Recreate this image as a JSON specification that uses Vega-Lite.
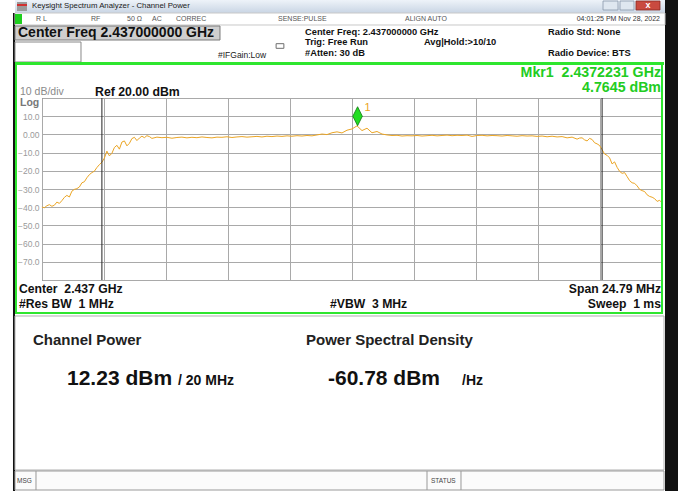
{
  "$schema": "https://vega.github.io/schema/vega-lite/v6.json",
  "autosize": {"type": "none"},
  "width": 620,
  "height": 182,
  "padding": {"left": 42, "top": 98, "right": 16, "bottom": 211},
  "background": "white",
  "config": {
    "font": "Liberation Sans",
    "view": {"stroke": "#4a4a4a", "strokeWidth": 1},
    "text": {"font": "Liberation Sans"}
  },
  "datasets": {
    "trace": [
      {"freq_mhz": 2424.6, "level_dbm": -39.9}, {"freq_mhz": 2424.8, "level_dbm": -39.2}, {"freq_mhz": 2425.0, "level_dbm": -39.5},
      {"freq_mhz": 2425.2, "level_dbm": -37.2}, {"freq_mhz": 2425.4, "level_dbm": -36.4}, {"freq_mhz": 2425.6, "level_dbm": -33.5},
      {"freq_mhz": 2425.8, "level_dbm": -31.2}, {"freq_mhz": 2426.0, "level_dbm": -29.8}, {"freq_mhz": 2426.2, "level_dbm": -26.6},
      {"freq_mhz": 2426.4, "level_dbm": -23.8}, {"freq_mhz": 2426.6, "level_dbm": -21.0}, {"freq_mhz": 2426.8, "level_dbm": -18.2},
      {"freq_mhz": 2427.0, "level_dbm": -15.3}, {"freq_mhz": 2427.2, "level_dbm": -9.2}, {"freq_mhz": 2427.4, "level_dbm": -10.4},
      {"freq_mhz": 2427.6, "level_dbm": -6.0}, {"freq_mhz": 2427.8, "level_dbm": -4.2}, {"freq_mhz": 2428.0, "level_dbm": -6.3},
      {"freq_mhz": 2428.2, "level_dbm": -2.3}, {"freq_mhz": 2428.4, "level_dbm": -3.4}, {"freq_mhz": 2428.6, "level_dbm": -1.0},
      {"freq_mhz": 2428.8, "level_dbm": -0.7}, {"freq_mhz": 2429.0, "level_dbm": -2.2}, {"freq_mhz": 2429.2, "level_dbm": -1.5},
      {"freq_mhz": 2429.4, "level_dbm": -1.8}, {"freq_mhz": 2429.6, "level_dbm": -1.6}, {"freq_mhz": 2429.8, "level_dbm": -2.1},
      {"freq_mhz": 2430.0, "level_dbm": -1.7}, {"freq_mhz": 2430.2, "level_dbm": -1.5}, {"freq_mhz": 2430.4, "level_dbm": -1.9},
      {"freq_mhz": 2430.6, "level_dbm": -1.6}, {"freq_mhz": 2430.8, "level_dbm": -1.8}, {"freq_mhz": 2431.0, "level_dbm": -1.4},
      {"freq_mhz": 2431.2, "level_dbm": -1.7}, {"freq_mhz": 2431.4, "level_dbm": -1.9}, {"freq_mhz": 2431.6, "level_dbm": -1.5},
      {"freq_mhz": 2431.8, "level_dbm": -1.6}, {"freq_mhz": 2432.0, "level_dbm": -1.3}, {"freq_mhz": 2432.2, "level_dbm": -1.7},
      {"freq_mhz": 2432.4, "level_dbm": -1.4}, {"freq_mhz": 2432.6, "level_dbm": -1.2}, {"freq_mhz": 2432.8, "level_dbm": -1.5},
      {"freq_mhz": 2433.0, "level_dbm": -1.3}, {"freq_mhz": 2433.2, "level_dbm": -1.1}, {"freq_mhz": 2433.4, "level_dbm": -1.4},
      {"freq_mhz": 2433.6, "level_dbm": -1.0}, {"freq_mhz": 2433.8, "level_dbm": -1.2}, {"freq_mhz": 2434.0, "level_dbm": -0.9},
      {"freq_mhz": 2434.2, "level_dbm": -1.1}, {"freq_mhz": 2434.4, "level_dbm": -0.8}, {"freq_mhz": 2434.6, "level_dbm": -1.0},
      {"freq_mhz": 2434.8, "level_dbm": -0.7}, {"freq_mhz": 2435.0, "level_dbm": -0.9}, {"freq_mhz": 2435.2, "level_dbm": -0.6},
      {"freq_mhz": 2435.4, "level_dbm": -0.8}, {"freq_mhz": 2435.6, "level_dbm": -0.3}, {"freq_mhz": 2435.8, "level_dbm": 0.2},
      {"freq_mhz": 2436.0, "level_dbm": -0.1}, {"freq_mhz": 2436.2, "level_dbm": 0.9}, {"freq_mhz": 2436.4, "level_dbm": 1.4},
      {"freq_mhz": 2436.6, "level_dbm": 0.8}, {"freq_mhz": 2436.8, "level_dbm": 2.3}, {"freq_mhz": 2437.0, "level_dbm": 3.0},
      {"freq_mhz": 2437.2, "level_dbm": 4.7}, {"freq_mhz": 2437.4, "level_dbm": 2.1}, {"freq_mhz": 2437.6, "level_dbm": 3.4},
      {"freq_mhz": 2437.8, "level_dbm": 0.9}, {"freq_mhz": 2438.0, "level_dbm": 1.6}, {"freq_mhz": 2438.2, "level_dbm": 0.2},
      {"freq_mhz": 2438.4, "level_dbm": -0.3}, {"freq_mhz": 2438.6, "level_dbm": -0.6}, {"freq_mhz": 2438.8, "level_dbm": -0.5},
      {"freq_mhz": 2439.0, "level_dbm": -0.9}, {"freq_mhz": 2439.2, "level_dbm": -0.7}, {"freq_mhz": 2439.4, "level_dbm": -0.8},
      {"freq_mhz": 2439.6, "level_dbm": -0.6}, {"freq_mhz": 2439.8, "level_dbm": -0.9}, {"freq_mhz": 2440.0, "level_dbm": -0.7},
      {"freq_mhz": 2440.2, "level_dbm": -0.5}, {"freq_mhz": 2440.4, "level_dbm": -0.8}, {"freq_mhz": 2440.6, "level_dbm": -0.6},
      {"freq_mhz": 2440.8, "level_dbm": -0.4}, {"freq_mhz": 2441.0, "level_dbm": -0.7}, {"freq_mhz": 2441.2, "level_dbm": -0.5},
      {"freq_mhz": 2441.4, "level_dbm": -0.6}, {"freq_mhz": 2441.6, "level_dbm": -0.4}, {"freq_mhz": 2441.8, "level_dbm": -1.1},
      {"freq_mhz": 2442.0, "level_dbm": -0.6}, {"freq_mhz": 2442.2, "level_dbm": -0.5}, {"freq_mhz": 2442.4, "level_dbm": -0.8},
      {"freq_mhz": 2442.6, "level_dbm": -0.6}, {"freq_mhz": 2442.8, "level_dbm": -0.7}, {"freq_mhz": 2443.0, "level_dbm": -0.9},
      {"freq_mhz": 2443.2, "level_dbm": -0.6}, {"freq_mhz": 2443.4, "level_dbm": -0.8}, {"freq_mhz": 2443.6, "level_dbm": -1.0},
      {"freq_mhz": 2443.8, "level_dbm": -0.7}, {"freq_mhz": 2444.0, "level_dbm": -0.9}, {"freq_mhz": 2444.2, "level_dbm": -0.8},
      {"freq_mhz": 2444.4, "level_dbm": -1.1}, {"freq_mhz": 2444.6, "level_dbm": -0.9}, {"freq_mhz": 2444.8, "level_dbm": -1.3},
      {"freq_mhz": 2445.0, "level_dbm": -1.0}, {"freq_mhz": 2445.2, "level_dbm": -1.4}, {"freq_mhz": 2445.4, "level_dbm": -1.2},
      {"freq_mhz": 2445.6, "level_dbm": -1.9}, {"freq_mhz": 2445.8, "level_dbm": -1.5}, {"freq_mhz": 2446.0, "level_dbm": -2.6},
      {"freq_mhz": 2446.2, "level_dbm": -1.9}, {"freq_mhz": 2446.4, "level_dbm": -3.6}, {"freq_mhz": 2446.6, "level_dbm": -2.8},
      {"freq_mhz": 2446.8, "level_dbm": -5.2}, {"freq_mhz": 2447.0, "level_dbm": -8.4}, {"freq_mhz": 2447.2, "level_dbm": -11.5},
      {"freq_mhz": 2447.4, "level_dbm": -16.2}, {"freq_mhz": 2447.6, "level_dbm": -18.1}, {"freq_mhz": 2447.8, "level_dbm": -21.4},
      {"freq_mhz": 2448.0, "level_dbm": -23.2}, {"freq_mhz": 2448.2, "level_dbm": -26.6}, {"freq_mhz": 2448.4, "level_dbm": -28.3},
      {"freq_mhz": 2448.6, "level_dbm": -30.9}, {"freq_mhz": 2448.8, "level_dbm": -33.2}, {"freq_mhz": 2449.0, "level_dbm": -34.5},
      {"freq_mhz": 2449.2, "level_dbm": -36.8}, {"freq_mhz": 2449.4, "level_dbm": -37.6},
      {"freq_mhz": 2424.7, "level_dbm": -40.3}, {"freq_mhz": 2424.9, "level_dbm": -38.6}, {"freq_mhz": 2425.1, "level_dbm": -38.9},
      {"freq_mhz": 2425.3, "level_dbm": -37.9}, {"freq_mhz": 2425.5, "level_dbm": -34.6}, {"freq_mhz": 2425.7, "level_dbm": -34.4},
      {"freq_mhz": 2425.9, "level_dbm": -30.2}, {"freq_mhz": 2426.1, "level_dbm": -28.9}, {"freq_mhz": 2426.3, "level_dbm": -26.0},
      {"freq_mhz": 2426.5, "level_dbm": -22.1}, {"freq_mhz": 2426.7, "level_dbm": -20.2}, {"freq_mhz": 2426.9, "level_dbm": -16.6},
      {"freq_mhz": 2427.1, "level_dbm": -13.0}, {"freq_mhz": 2427.3, "level_dbm": -11.8}, {"freq_mhz": 2427.5, "level_dbm": -7.2},
      {"freq_mhz": 2427.7, "level_dbm": -8.1}, {"freq_mhz": 2427.9, "level_dbm": -3.6}, {"freq_mhz": 2428.1, "level_dbm": -4.9},
      {"freq_mhz": 2428.3, "level_dbm": -1.6}, {"freq_mhz": 2428.5, "level_dbm": -2.0}, {"freq_mhz": 2428.7, "level_dbm": -1.8},
      {"freq_mhz": 2428.9, "level_dbm": -1.2},
      {"freq_mhz": 2446.1, "level_dbm": -2.0}, {"freq_mhz": 2446.3, "level_dbm": -3.0}, {"freq_mhz": 2446.5, "level_dbm": -2.2},
      {"freq_mhz": 2446.7, "level_dbm": -4.6}, {"freq_mhz": 2446.9, "level_dbm": -6.1}, {"freq_mhz": 2447.1, "level_dbm": -10.8},
      {"freq_mhz": 2447.3, "level_dbm": -12.9}, {"freq_mhz": 2447.5, "level_dbm": -15.1}, {"freq_mhz": 2447.7, "level_dbm": -20.3},
      {"freq_mhz": 2447.9, "level_dbm": -21.0}, {"freq_mhz": 2448.1, "level_dbm": -25.4}, {"freq_mhz": 2448.3, "level_dbm": -26.9},
      {"freq_mhz": 2448.5, "level_dbm": -30.2}, {"freq_mhz": 2448.7, "level_dbm": -31.4}, {"freq_mhz": 2448.9, "level_dbm": -34.1},
      {"freq_mhz": 2449.1, "level_dbm": -35.3}, {"freq_mhz": 2449.3, "level_dbm": -36.2}
    ],
    "marker": [{"freq_mhz": 2437.2231, "level_dbm": 4.7645, "name": "1"}],
    "channel": [{"edge_mhz": 2427.0}, {"edge_mhz": 2447.0}]
  },
  "layer": [
    {"data": {"name": "trace"}, "mark": {"type": "line", "color": "#eba524", "strokeWidth": 1},
     "encoding": {
       "x": {"field": "freq_mhz", "type": "quantitative",
             "scale": {"domain": [2424.605, 2449.395], "nice": false, "zero": false},
             "axis": {"title": null, "values": [2424.605, 2427.084, 2429.563, 2432.042, 2434.521, 2437.0, 2439.479, 2441.958, 2444.437, 2446.916, 2449.395], "tickCount": 30,
                      "labels": false, "ticks": false, "domain": false, "grid": true, "gridColor": "#a9a9a9", "gridWidth": 1}},
       "y": {"field": "level_dbm", "type": "quantitative",
             "scale": {"domain": [-80, 20], "nice": false, "zero": false},
             "axis": {"title": null, "values": [-80, -70, -60, -50, -40, -30, -20, -10, 0, 10, 20], "tickCount": 30,
                      "labelExpr": "datum.value == 0 ? '0.00' : ((datum.value >= 20 || datum.value <= -80) ? '' : format(datum.value, '.1f'))",
                      "ticks": false, "domain": false, "grid": true, "gridColor": "#a9a9a9", "gridWidth": 1,
                      "labelColor": "#9a9a9a", "labelFontSize": 8.5, "labelPadding": 3, "labelOverlap": false, "labelFlush": false, "labelFont": "Liberation Sans"}}
     }},
    {"data": {"values": [{}]}, "mark": {"type": "rect", "fill": "#111111"},
     "encoding": {"x": {"datum": 2449.515}, "x2": {"datum": 2450.035}, "y": {"datum": 73.846}, "y2": {"datum": -195.934}}},
    {"data": {"values": [{}]}, "mark": {"type": "rect", "fill": "#111111"},
     "encoding": {"x": {"datum": 2423.445}, "x2": {"datum": 2423.525}, "y": {"datum": 66.703}, "y2": {"datum": -195.934}}},
    {"data": {"values": [{}]}, "mark": {"type": "rect", "fill": {"gradient": "linear", "x1": 0, "y1": 0, "x2": 0, "y2": 1, "stops": [{"offset": 0, "color": "#eef3f9"}, {"offset": 1, "color": "#c9d5e4"}]}},
     "encoding": {"x": {"datum": 2423.525}, "x2": {"datum": 2449.515}, "y": {"datum": 73.846}, "y2": {"datum": 66.703}}},
    {"data": {"values": [{}]}, "mark": {"type": "rect", "fill": "#9a9a9a"},
     "encoding": {"x": {"datum": 2423.605}, "x2": {"datum": 2424.005}, "y": {"datum": 72.747}, "y2": {"datum": 67.802}}},
    {"data": {"values": [{}]}, "mark": {"type": "rect", "fill": "#d03030"},
     "encoding": {"x": {"datum": 2423.605}, "x2": {"datum": 2424.005}, "y": {"datum": 71.648}, "y2": {"datum": 70.549}}},
    {"data": {"values": [{"t": "Keysight Spectrum Analyzer - Channel Power"}]}, "mark": {"type": "text", "align": "left", "baseline": "middle", "fontSize": 7.8, "color": "#1a1a1a"},
     "encoding": {"x": {"datum": 2424.205}, "y": {"datum": 70.275}, "text": {"field": "t"}}},
    {"data": {"values": [{}]}, "mark": {"type": "rect", "fill": "#dfe7f0", "stroke": "#8897aa", "strokeWidth": 0.8},
     "encoding": {"x": {"datum": 2447.036}, "x2": {"datum": 2447.636}, "y": {"datum": 73.297}, "y2": {"datum": 68.352}}},
    {"data": {"values": [{}]}, "mark": {"type": "rect", "fill": "#dfe7f0", "stroke": "#8897aa", "strokeWidth": 0.8},
     "encoding": {"x": {"datum": 2447.716}, "x2": {"datum": 2448.275}, "y": {"datum": 73.297}, "y2": {"datum": 68.352}}},
    {"data": {"values": [{}]}, "mark": {"type": "rect", "fill": "#c94a3f", "stroke": "#8a2a22", "strokeWidth": 0.8},
     "encoding": {"x": {"datum": 2448.355}, "x2": {"datum": 2449.315}, "y": {"datum": 73.297}, "y2": {"datum": 68.352}}},
    {"data": {"values": [{"t": "x"}]}, "mark": {"type": "text", "align": "center", "baseline": "middle", "fontSize": 9, "fontWeight": "bold", "color": "white"},
     "encoding": {"x": {"datum": 2448.835}, "y": {"datum": 71.0}, "text": {"field": "t"}}},
    {"data": {"values": [{}]}, "mark": {"type": "rect", "fill": "white", "stroke": "#c8c8c8", "strokeWidth": 1},
     "encoding": {"x": {"datum": 2423.525}, "x2": {"datum": 2449.515}, "y": {"datum": 66.703}, "y2": {"datum": 60.11}}},
    {"data": {"values": [{}]}, "mark": {"type": "rect", "fill": "#1fcf1f"},
     "encoding": {"x": {"datum": 2423.525}, "x2": {"datum": 2423.805}, "y": {"datum": 66.154}, "y2": {"datum": 60.659}}},
    {"data": {"values": [{"t": "R L"}]}, "mark": {"type": "text", "align": "left", "baseline": "middle", "fontSize": 7, "color": "#555555"},
     "encoding": {"x": {"datum": 2424.365}, "y": {"datum": 63.132}, "text": {"field": "t"}}},
    {"data": {"values": [{"t": "RF"}]}, "mark": {"type": "text", "align": "left", "baseline": "middle", "fontSize": 7, "color": "#555555"},
     "encoding": {"x": {"datum": 2426.564}, "y": {"datum": 63.132}, "text": {"field": "t"}}},
    {"data": {"values": [{"t": "50 Ω"}]}, "mark": {"type": "text", "align": "left", "baseline": "middle", "fontSize": 7, "color": "#555555"},
     "encoding": {"x": {"datum": 2428.004}, "y": {"datum": 63.132}, "text": {"field": "t"}}},
    {"data": {"values": [{"t": "AC"}]}, "mark": {"type": "text", "align": "left", "baseline": "middle", "fontSize": 7, "color": "#555555"},
     "encoding": {"x": {"datum": 2429.003}, "y": {"datum": 63.132}, "text": {"field": "t"}}},
    {"data": {"values": [{"t": "CORREC"}]}, "mark": {"type": "text", "align": "left", "baseline": "middle", "fontSize": 7, "color": "#555555"},
     "encoding": {"x": {"datum": 2429.963}, "y": {"datum": 63.132}, "text": {"field": "t"}}},
    {"data": {"values": [{"t": "SENSE:PULSE"}]}, "mark": {"type": "text", "align": "left", "baseline": "middle", "fontSize": 7, "color": "#555555"},
     "encoding": {"x": {"datum": 2434.041}, "y": {"datum": 63.132}, "text": {"field": "t"}}},
    {"data": {"values": [{"t": "ALIGN AUTO"}]}, "mark": {"type": "text", "align": "left", "baseline": "middle", "fontSize": 7, "color": "#555555"},
     "encoding": {"x": {"datum": 2439.119}, "y": {"datum": 63.132}, "text": {"field": "t"}}},
    {"data": {"values": [{"t": "04:01:25 PM Nov 28, 2022"}]}, "mark": {"type": "text", "align": "right", "baseline": "middle", "fontSize": 7, "color": "#333333"},
     "encoding": {"x": {"datum": 2449.315}, "y": {"datum": 63.132}, "text": {"field": "t"}}},
    {"data": {"values": [{}]}, "mark": {"type": "rect", "fill": "#cfcfcf", "stroke": "#7a7a7a", "strokeWidth": 1},
     "encoding": {"x": {"datum": 2423.525}, "x2": {"datum": 2431.722}, "y": {"datum": 59.56}, "y2": {"datum": 51.868}}},
    {"data": {"values": [{"t": "Center Freq 2.437000000 GHz"}]}, "mark": {"type": "text", "align": "left", "baseline": "middle", "fontSize": 14, "fontWeight": "bold", "color": "#111111"},
     "encoding": {"x": {"datum": 2423.645}, "y": {"datum": 55.714}, "text": {"field": "t"}}},
    {"data": {"values": [{}]}, "mark": {"type": "rect", "fill": "white", "stroke": "#888888", "strokeWidth": 1},
     "encoding": {"x": {"datum": 2423.525}, "x2": {"datum": 2426.164}, "y": {"datum": 50.769}, "y2": {"datum": 39.78}}},
    {"data": {"values": [{"t": "#IFGain:Low"}]}, "mark": {"type": "text", "align": "left", "baseline": "middle", "fontSize": 8.5, "color": "#222222"},
     "encoding": {"x": {"datum": 2431.642}, "y": {"datum": 43.626}, "text": {"field": "t"}}},
    {"data": {"values": [{}]}, "mark": {"type": "point", "shape": "M-1,-0.6L1,-0.6L1,0.6L-1,0.6Z", "size": 60, "filled": false, "stroke": "#333333", "strokeWidth": 1},
     "encoding": {"x": {"datum": 2434.121}, "y": {"datum": 48.571}}},
    {"data": {"values": [{"t": "Center Freq: 2.437000000 GHz"}]}, "mark": {"type": "text", "align": "left", "baseline": "middle", "fontSize": 9.3, "fontWeight": "bold", "color": "#111111"},
     "encoding": {"x": {"datum": 2435.121}, "y": {"datum": 56.264}, "text": {"field": "t"}}},
    {"data": {"values": [{"t": "Trig: Free Run"}]}, "mark": {"type": "text", "align": "left", "baseline": "middle", "fontSize": 9.3, "fontWeight": "bold", "color": "#111111"},
     "encoding": {"x": {"datum": 2435.121}, "y": {"datum": 50.769}, "text": {"field": "t"}}},
    {"data": {"values": [{"t": "Avg|Hold:>10/10"}]}, "mark": {"type": "text", "align": "left", "baseline": "middle", "fontSize": 9.3, "fontWeight": "bold", "color": "#111111"},
     "encoding": {"x": {"datum": 2439.879}, "y": {"datum": 50.769}, "text": {"field": "t"}}},
    {"data": {"values": [{"t": "#Atten: 30 dB"}]}, "mark": {"type": "text", "align": "left", "baseline": "middle", "fontSize": 9.3, "fontWeight": "bold", "color": "#111111"},
     "encoding": {"x": {"datum": 2435.121}, "y": {"datum": 44.725}, "text": {"field": "t"}}},
    {"data": {"values": [{"t": "Radio Std: None"}]}, "mark": {"type": "text", "align": "left", "baseline": "middle", "fontSize": 9.3, "fontWeight": "bold", "color": "#111111"},
     "encoding": {"x": {"datum": 2444.837}, "y": {"datum": 56.264}, "text": {"field": "t"}}},
    {"data": {"values": [{"t": "Radio Device: BTS"}]}, "mark": {"type": "text", "align": "left", "baseline": "middle", "fontSize": 9.3, "fontWeight": "bold", "color": "#111111"},
     "encoding": {"x": {"datum": 2444.837}, "y": {"datum": 44.725}, "text": {"field": "t"}}},
    {"data": {"values": [{}]}, "mark": {"type": "rect", "fill": "#2ee62e"},
     "encoding": {"x": {"datum": 2423.525}, "x2": {"datum": 2449.475}, "y": {"datum": 39.78}, "y2": {"datum": 38.132}}},
    {"data": {"values": [{}]}, "mark": {"type": "rect", "fill": null, "fillOpacity": 0, "stroke": "#2ee62e", "strokeWidth": 2},
     "encoding": {"x": {"datum": 2423.565}, "x2": {"datum": 2449.395}, "y": {"datum": 38.956}, "y2": {"datum": -98.132}}},
    {"data": {"values": [{"t": "Mkr1\u00a0 2.4372231 GHz"}]}, "mark": {"type": "text", "align": "right", "baseline": "middle", "fontSize": 14.2, "fontWeight": "bold", "color": "#22cc22"},
     "encoding": {"x": {"datum": 2449.355}, "y": {"datum": 34.0}, "text": {"field": "t"}}},
    {"data": {"values": [{"t": "4.7645 dBm"}]}, "mark": {"type": "text", "align": "right", "baseline": "middle", "fontSize": 14.2, "fontWeight": "bold", "color": "#22cc22"},
     "encoding": {"x": {"datum": 2449.355}, "y": {"datum": 25.495}, "text": {"field": "t"}}},
    {"data": {"values": [{"t": "10 dB/div"}]}, "mark": {"type": "text", "align": "left", "baseline": "middle", "fontSize": 10.5, "color": "#8a8a8a"},
     "encoding": {"x": {"datum": 2423.725}, "y": {"datum": 23.297}, "text": {"field": "t"}}},
    {"data": {"values": [{"t": "Ref 20.00 dBm"}]}, "mark": {"type": "text", "align": "left", "baseline": "middle", "fontSize": 12.3, "fontWeight": "bold", "color": "#111111"},
     "encoding": {"x": {"datum": 2426.724}, "y": {"datum": 23.297}, "text": {"field": "t"}}},
    {"data": {"values": [{"t": "Log"}]}, "mark": {"type": "text", "align": "left", "baseline": "middle", "fontSize": 10.5, "fontWeight": "bold", "color": "#777777"},
     "encoding": {"x": {"datum": 2423.725}, "y": {"datum": 17.253}, "text": {"field": "t"}}},
    {"data": {"name": "channel"}, "mark": {"type": "rule", "color": "#222222", "strokeWidth": 1},
     "encoding": {"x": {"field": "edge_mhz", "type": "quantitative"}, "y": {"datum": 20}, "y2": {"datum": -80}}},
    {"data": {"name": "marker"}, "mark": {"type": "point", "shape": "M0,-1L0.5,0L0,1L-0.5,0Z", "size": 361, "filled": true, "fill": "#22dd22", "stroke": "#117711", "strokeWidth": 0.8, "opacity": 1, "yOffset": -9.5},
     "encoding": {"x": {"field": "freq_mhz", "type": "quantitative"}, "y": {"field": "level_dbm", "type": "quantitative"}}},
    {"data": {"name": "marker"}, "mark": {"type": "text", "align": "left", "baseline": "middle", "fontSize": 11, "color": "#eba524", "dx": 7, "dy": -18},
     "encoding": {"x": {"field": "freq_mhz", "type": "quantitative"}, "y": {"field": "level_dbm", "type": "quantitative"}, "text": {"field": "name"}}},
    {"data": {"values": [{"t": "Center\u00a0 2.437 GHz"}]}, "mark": {"type": "text", "align": "left", "baseline": "middle", "fontSize": 12.2, "fontWeight": "bold", "color": "#111111"},
     "encoding": {"x": {"datum": 2423.685}, "y": {"datum": -84.945}, "text": {"field": "t"}}},
    {"data": {"values": [{"t": "#Res BW\u00a0 1 MHz"}]}, "mark": {"type": "text", "align": "left", "baseline": "middle", "fontSize": 12.2, "fontWeight": "bold", "color": "#111111"},
     "encoding": {"x": {"datum": 2423.685}, "y": {"datum": -93.187}, "text": {"field": "t"}}},
    {"data": {"values": [{"t": "#VBW\u00a0 3 MHz"}]}, "mark": {"type": "text", "align": "left", "baseline": "middle", "fontSize": 12.2, "fontWeight": "bold", "color": "#111111"},
     "encoding": {"x": {"datum": 2436.12}, "y": {"datum": -93.187}, "text": {"field": "t"}}},
    {"data": {"values": [{"t": "Span 24.79 MHz"}]}, "mark": {"type": "text", "align": "right", "baseline": "middle", "fontSize": 12.2, "fontWeight": "bold", "color": "#111111"},
     "encoding": {"x": {"datum": 2449.355}, "y": {"datum": -84.945}, "text": {"field": "t"}}},
    {"data": {"values": [{"t": "Sweep\u00a0 1 ms"}]}, "mark": {"type": "text", "align": "right", "baseline": "middle", "fontSize": 12.2, "fontWeight": "bold", "color": "#111111"},
     "encoding": {"x": {"datum": 2449.355}, "y": {"datum": -93.187}, "text": {"field": "t"}}},
    {"data": {"values": [{}]}, "mark": {"type": "rect", "fill": null, "fillOpacity": 0, "stroke": "#b0b0b0", "strokeWidth": 1},
     "encoding": {"x": {"datum": 2423.525}, "x2": {"datum": 2449.475}, "y": {"datum": -99.78}, "y2": {"datum": -184.396}}},
    {"data": {"values": [{"t": "Channel Power"}]}, "mark": {"type": "text", "align": "left", "baseline": "middle", "fontSize": 15, "fontWeight": "bold", "color": "#222222"},
     "encoding": {"x": {"datum": 2424.245}, "y": {"datum": -112.967}, "text": {"field": "t"}}},
    {"data": {"values": [{"t": "Power Spectral Density"}]}, "mark": {"type": "text", "align": "left", "baseline": "middle", "fontSize": 15, "fontWeight": "bold", "color": "#222222"},
     "encoding": {"x": {"datum": 2435.161}, "y": {"datum": -112.967}, "text": {"field": "t"}}},
    {"data": {"values": [{"t": "12.23 dBm"}]}, "mark": {"type": "text", "align": "left", "baseline": "middle", "fontSize": 21, "fontWeight": "bold", "color": "#111111"},
     "encoding": {"x": {"datum": 2425.605}, "y": {"datum": -134.396}, "text": {"field": "t"}}},
    {"data": {"values": [{"t": "/ 20 MHz"}]}, "mark": {"type": "text", "align": "left", "baseline": "middle", "fontSize": 14, "fontWeight": "bold", "color": "#111111"},
     "encoding": {"x": {"datum": 2430.043}, "y": {"datum": -135.495}, "text": {"field": "t"}}},
    {"data": {"values": [{"t": "-60.78 dBm"}]}, "mark": {"type": "text", "align": "left", "baseline": "middle", "fontSize": 21, "fontWeight": "bold", "color": "#111111"},
     "encoding": {"x": {"datum": 2436.04}, "y": {"datum": -134.396}, "text": {"field": "t"}}},
    {"data": {"values": [{"t": "/Hz"}]}, "mark": {"type": "text", "align": "left", "baseline": "middle", "fontSize": 14, "fontWeight": "bold", "color": "#111111"},
     "encoding": {"x": {"datum": 2441.398}, "y": {"datum": -135.495}, "text": {"field": "t"}}},
    {"data": {"values": [{}]}, "mark": {"type": "rect", "fill": "#fbfbfb", "stroke": "#999999", "strokeWidth": 1},
     "encoding": {"x": {"datum": 2423.525}, "x2": {"datum": 2449.475}, "y": {"datum": -184.945}, "y2": {"datum": -195.385}}},
    {"data": {"values": [{}]}, "mark": {"type": "rule", "color": "#999999", "strokeWidth": 1},
     "encoding": {"x": {"datum": 2424.365}, "y": {"datum": -184.945}, "y2": {"datum": -195.385}}},
    {"data": {"values": [{}]}, "mark": {"type": "rule", "color": "#999999", "strokeWidth": 1},
     "encoding": {"x": {"datum": 2439.999}, "y": {"datum": -184.945}, "y2": {"datum": -195.385}}},
    {"data": {"values": [{}]}, "mark": {"type": "rule", "color": "#999999", "strokeWidth": 1},
     "encoding": {"x": {"datum": 2441.358}, "y": {"datum": -184.945}, "y2": {"datum": -195.385}}},
    {"data": {"values": [{"t": "MSG"}]}, "mark": {"type": "text", "align": "left", "baseline": "middle", "fontSize": 6.5, "color": "#444444"},
     "encoding": {"x": {"datum": 2423.605}, "y": {"datum": -190.44}, "text": {"field": "t"}}},
    {"data": {"values": [{"t": "STATUS"}]}, "mark": {"type": "text", "align": "left", "baseline": "middle", "fontSize": 6.5, "color": "#444444"},
     "encoding": {"x": {"datum": 2440.159}, "y": {"datum": -190.44}, "text": {"field": "t"}}}
  ]
}
